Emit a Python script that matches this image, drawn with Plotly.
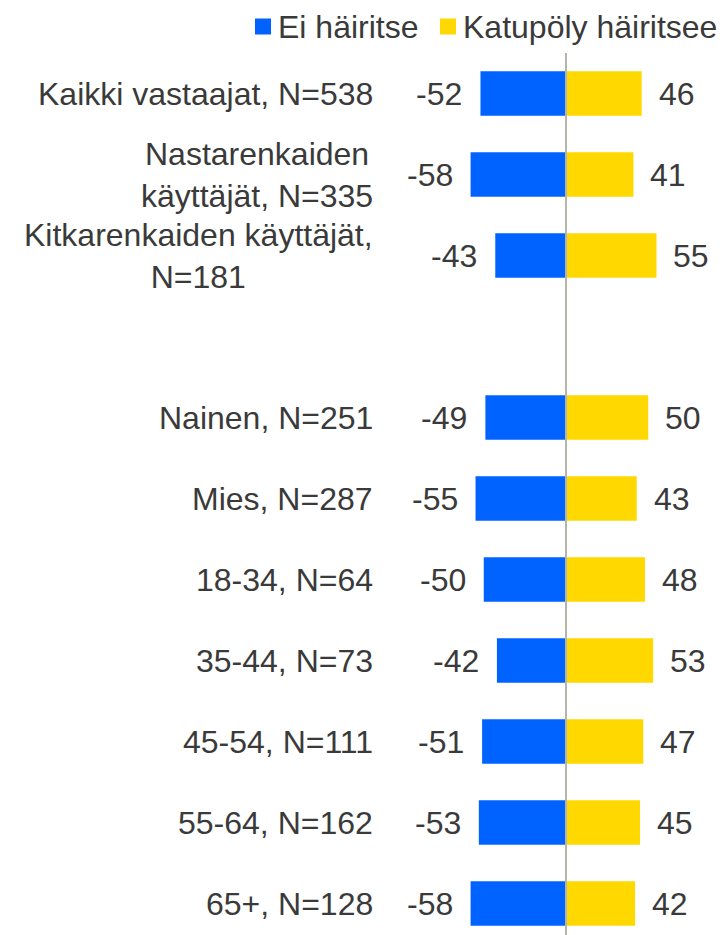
import plotly.graph_objects as go

# Survey groups (top to bottom); a blank row separates the tyre groups from demographics
categories = [
    "Kaikki vastaajat, N=538",
    "Nastarenkaiden<br>käyttäjät, N=335",
    "Kitkarenkaiden käyttäjät,<br>N=181",
    "Nainen, N=251",
    "Mies, N=287",
    "18-34, N=64",
    "35-44, N=73",
    "45-54, N=111",
    "55-64, N=162",
    "65+, N=128",
]
spacer = "spacer"
row_order = categories[:3] + [spacer] + categories[3:]

series_names = ["Ei häiritse", "Katupöly häiritsee"]
ei_hairitse = [-52, -58, -43, -49, -55, -50, -42, -51, -53, -58]
katupoly_hairitsee = [46, 41, 55, 50, 43, 48, 53, 47, 45, 42]

BLUE = "#0062FF"
YELLOW = "#FFD800"
TEXT = "#3A3A3A"
FONT = "Liberation Sans, Arial, sans-serif"

W, H = 722, 935
M_TOP, M_BOT = 53, 0
ZERO_PX = 566
PX_PER_UNIT = 1.645
ROW_PX = 81


def px_x(p):
    return p / W


def px_y(p):
    return 1 - (p - M_TOP) / (H - M_TOP - M_BOT)


fig = go.Figure()
fig.add_trace(go.Bar(
    y=categories, x=ei_hairitse, orientation="h", name=series_names[0],
    marker=dict(color=BLUE, line=dict(width=0)), showlegend=False,
))
fig.add_trace(go.Bar(
    y=categories, x=katupoly_hairitsee, orientation="h", name=series_names[1],
    marker=dict(color=YELLOW, line=dict(width=0)), showlegend=False,
))

annotations = []
# value labels just outside each bar end
for cat, v in zip(categories, ei_hairitse):
    annotations.append(dict(
        x=v, y=cat, xref="x", yref="y", text=str(v), showarrow=False,
        xanchor="right", yanchor="middle", xshift=-16,
        font=dict(size=32, color=TEXT, family=FONT),
    ))
for cat, v in zip(categories, katupoly_hairitsee):
    annotations.append(dict(
        x=v, y=cat, xref="x", yref="y", text=str(v), showarrow=False,
        xanchor="left", yanchor="middle", xshift=15,
        font=dict(size=32, color=TEXT, family=FONT),
    ))
# group labels, right-aligned block with centred lines
for cat in categories:
    annotations.append(dict(
        x=px_x(375), y=cat, xref="paper", yref="y", text=cat, showarrow=False,
        xanchor="right", yanchor="middle", align="center",
        font=dict(size=32, color=TEXT, family=FONT),
    ))

# legend drawn as swatches + text
shapes = []
legend_items = [(series_names[0], BLUE, 255), (series_names[1], YELLOW, 440)]
for name, col, x0 in legend_items:
    shapes.append(dict(
        type="rect", xref="paper", yref="paper",
        x0=px_x(x0), x1=px_x(x0 + 16), y0=px_y(34.5), y1=px_y(18.5),
        fillcolor=col, line=dict(width=0),
    ))
    annotations.append(dict(
        x=px_x(x0 + 21), y=px_y(27), xref="paper", yref="paper", text=name,
        showarrow=False, xanchor="left", yanchor="middle",
        font=dict(size=32, color=TEXT, family=FONT),
    ))

# zero line over the bars
shapes.append(dict(
    type="line", xref="x", yref="paper", x0=0, x1=0, y0=0, y1=1,
    line=dict(color="#B5B5AC", width=2), layer="above",
))

x_lo = -ZERO_PX / PX_PER_UNIT
x_hi = (W - ZERO_PX) / PX_PER_UNIT
y_bottom = -0.5 + (H - M_TOP - M_BOT) / ROW_PX

fig.update_layout(
    width=W, height=H,
    margin=dict(l=0, r=0, t=M_TOP, b=M_BOT, pad=0),
    paper_bgcolor="white", plot_bgcolor="white",
    barmode="relative", bargap=0.453,
    xaxis=dict(range=[x_lo, x_hi], visible=False, showgrid=False, zeroline=False),
    yaxis=dict(type="category", categoryorder="array", categoryarray=row_order,
               range=[y_bottom, -0.5], showticklabels=False, showgrid=False,
               zeroline=False, ticks=""),
    annotations=annotations, shapes=shapes,
    font=dict(family=FONT, color=TEXT),
)

fig.write_html("out.html")
